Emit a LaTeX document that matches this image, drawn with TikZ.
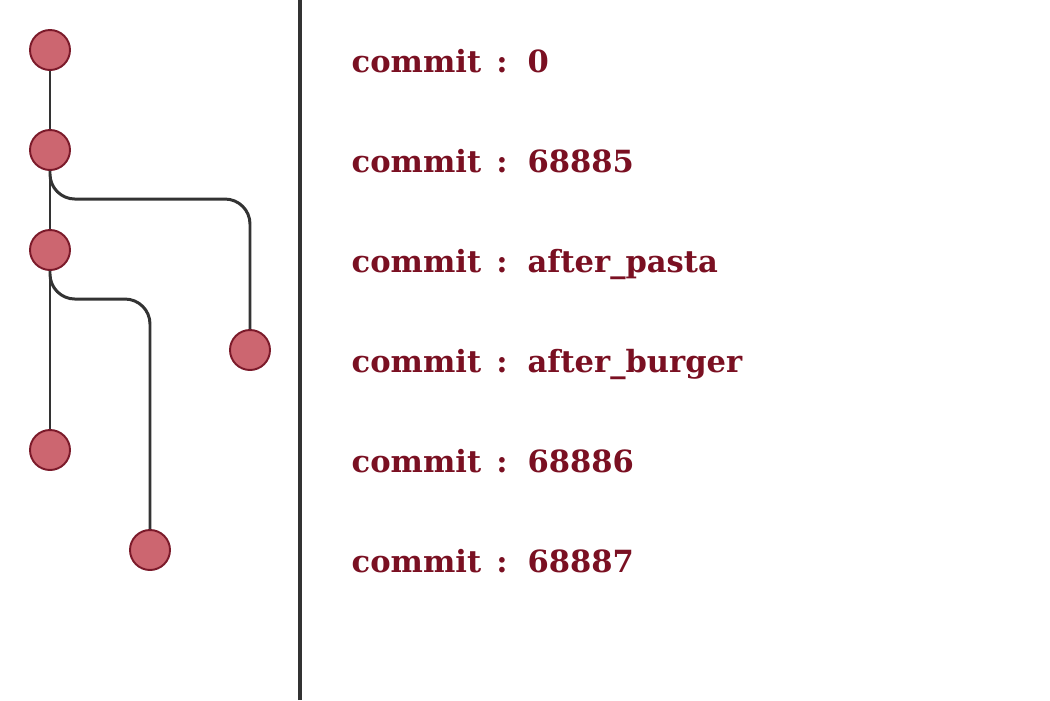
\documentclass[tikz,border=0pt]{standalone}
\usepackage{fontspec}
\setmainfont{DejaVu Serif}
\usepackage{tikz}
\usetikzlibrary{calc, positioning}
\definecolor{cfill}{RGB}{204,102,112}
\definecolor{cedge}{RGB}{123,26,42}
\definecolor{ctext}{RGB}{122,16,34}
\definecolor{cline}{RGB}{51,51,51}
\tikzstyle{commit}=[draw=cedge, fill=cfill, shape=circle, line width=0.55pt, minimum size=0.4cm, inner sep=0pt]
\tikzstyle{msg}=[anchor=base west, inner sep=0pt, text=ctext, font=\bfseries\fontsize{8.7}{10}\selectfont]
\tikzstyle{branch}=[draw=cline, line width=0.85pt, rounded corners=0.25cm]
\newcommand{\cmsg}[1]{commit\hskip0.5em:\hskip0.65em#1}

\begin{document}
\begin{tikzpicture}
\useasboundingbox (0,0) rectangle (10.5,7);
\node[commit] (C0) at (0.5,6.5) {};
\node[commit] (C1) at (0.5,5.5) {};
\node[commit] (C2) at (0.5,4.5) {};
\node[commit] (C3) at (2.5,3.5) {};
\node[commit] (C4) at (0.5,2.5) {};
\node[commit] (C5) at (1.5,1.5) {};
%\node[msg] (L\i) at (3.51,6.27-\i) {\cmsg{...}};
\node[msg] (L0) at (3.51,6.28) {\cmsg{0}};
\node[msg] (L1) at (3.51,5.28) {\cmsg{68885}};
\node[msg] (L2) at (3.51,4.28) {\cmsg{after\_pasta}};
\node[msg] (L3) at (3.51,3.28) {\cmsg{after\_burger}};
\node[msg] (L4) at (3.51,2.28) {\cmsg{68886}};
\node[msg] (L5) at (3.51,1.28) {\cmsg{68887}};
\draw[branch] (C0) -- (C1);
\draw[branch] (C1) -- (C2);
\draw[branch] (C2) -- (C4);
\draw[branch] (C1.south) |- ([yshift=1.3cm]C3.north) -- (C3.north);
\draw[branch] (C2.south) |- ([yshift=2.3cm]C5.north) -- (C5.north);
\draw[cline, line width=1.4pt] (3,0) -- (3,7);
\end{tikzpicture}
\end{document}
